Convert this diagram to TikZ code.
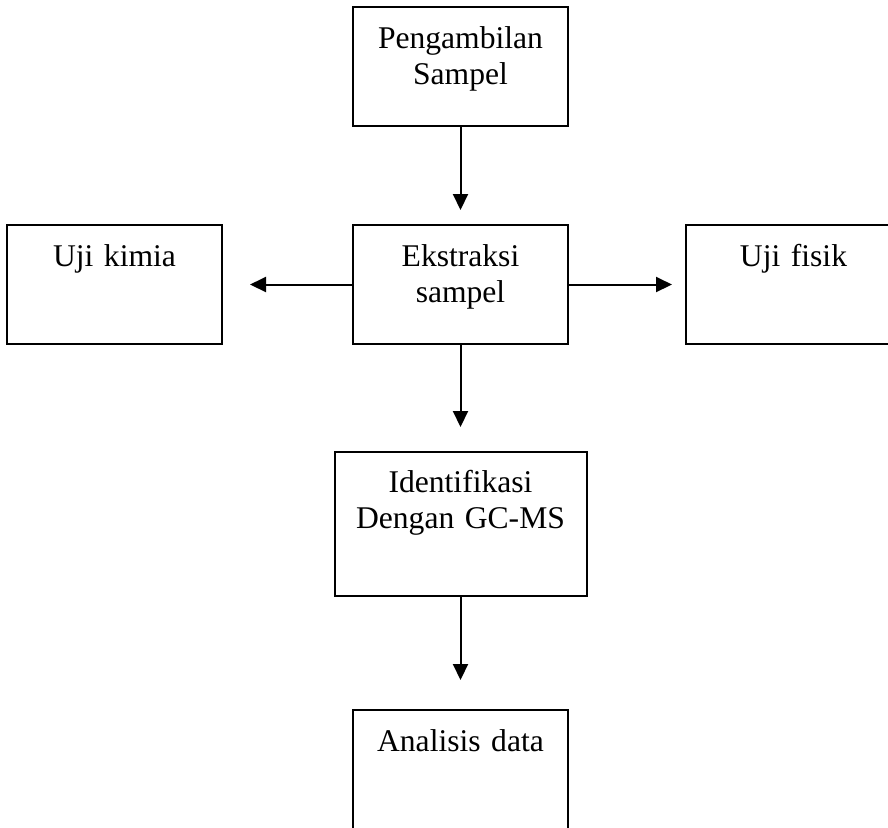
\documentclass[tikz,border=0pt]{standalone}
\usepackage{fontspec}
\setmainfont{Liberation Serif}
\usetikzlibrary{positioning,arrows.meta}

\begin{document}
\begin{tikzpicture}[node distance=49.5pt,
        every node/.style={draw,line width=1pt,inner sep=0pt,text width=107.5pt,align=center,
            text height=20.5pt,text depth=39pt,font=\fontsize{15.8}{18}\selectfont},
        wide/.style={text width=126pt,text height=20pt,text depth=52pt},
        flow/.style={line width=1pt,-{Triangle[width=7.5pt,length=8pt]}}]
    \useasboundingbox (0,0) rectangle (444pt,-413.5pt);
    \node[anchor=north] (peng) at (230.25pt,-3pt) {Pengambilan\\Sampel};
    \node[below=48.5pt of peng] (ekstraksi) {Ekstraksi\\sampel};
    \node[left=64.5pt of ekstraksi] (kimia) {Uji kimia};
    \node[right=58pt of ekstraksi] (fisik) {Uji fisik};
    \node[wide,below=53pt of ekstraksi] (identifikasi) {Identifikasi\\Dengan GC-MS};
    \node[below=56pt of identifikasi] (analisis) {Analisis data};

    \draw[flow,shorten >=7pt] (peng) -- (ekstraksi);
    \draw[flow,shorten >=13.5pt] (ekstraksi) -- (kimia);
    \draw[flow,shorten >=6.5pt] (ekstraksi) -- (fisik);
    \draw[flow,shorten >=12pt] (ekstraksi) -- (identifikasi);
    \draw[flow,shorten >=14.5pt] (identifikasi) -- (analisis);
\end{tikzpicture}
\end{document}
